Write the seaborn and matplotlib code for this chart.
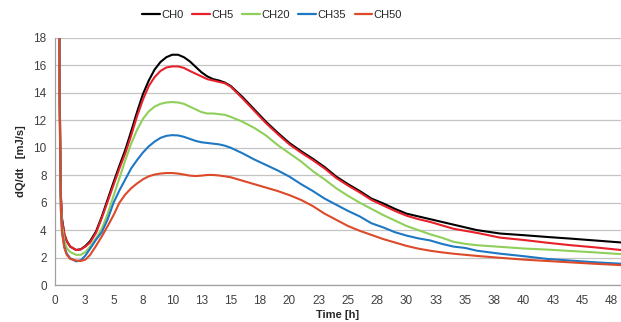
import pandas as pd
import numpy as np
import seaborn as sns
import matplotlib.pyplot as plt

# time points [h]
hours = [0.3, 0.4, 0.5, 0.6, 0.8, 1.0, 1.3, 1.8, 2.2, 2.6, 3, 3.5, 4, 4.5, 5, 5.5, 6, 6.5, 7, 7.5, 8,
         8.5, 9, 9.5, 10, 10.5, 11, 11.5, 12, 12.5, 13, 13.5, 14, 14.5, 15, 16, 17, 18, 19, 20, 21,
         22, 23, 24, 25, 26, 27, 28, 29, 30, 31, 32, 33, 34, 35, 36, 38, 40, 42, 44, 46, 48.3]

ch0 = [40, 14.0, 6.5, 4.8, 3.7, 3.2, 2.8, 2.55, 2.6, 2.85, 3.2, 3.9, 5.0, 6.25, 7.5, 8.7, 9.85, 11.2, 12.6, 13.9, 14.9,
       15.7, 16.25, 16.6, 16.78, 16.78, 16.6, 16.3, 15.9, 15.5, 15.2, 15.0, 14.9, 14.75, 14.5, 13.7, 12.8, 11.9, 11.1, 10.35, 9.75,
       9.2, 8.6, 7.9, 7.35, 6.85, 6.3, 5.95, 5.55, 5.2, 5.0, 4.8, 4.6, 4.4, 4.2, 4.0, 3.75, 3.63, 3.5, 3.38, 3.25, 3.1]

ch5 = [40, 14.0, 6.5, 4.8, 3.7, 3.2, 2.8, 2.55, 2.6, 2.8, 3.1, 3.8, 4.9, 6.1, 7.3, 8.5, 9.6, 10.9, 12.3, 13.5, 14.5,
       15.15, 15.6, 15.85, 15.93, 15.93, 15.82, 15.6, 15.4, 15.2, 15.0, 14.9, 14.8, 14.7, 14.45, 13.6, 12.7, 11.8, 11.0, 10.25, 9.65,
       9.1, 8.5, 7.8, 7.25, 6.75, 6.2, 5.8, 5.4, 5.05, 4.8, 4.6, 4.35, 4.1, 3.95, 3.8, 3.45, 3.28, 3.08, 2.9, 2.75, 2.55]

ch20 = [40, 13.5, 6.0, 4.3, 3.2, 2.7, 2.4, 2.2, 2.2, 2.4, 2.8, 3.4, 4.1, 5.2, 6.5, 7.8, 9.1, 10.3, 11.3, 12.1, 12.65,
        13.0, 13.2, 13.3, 13.33, 13.3, 13.2, 13.0, 12.8, 12.6, 12.5, 12.5, 12.45, 12.4, 12.25, 11.9, 11.45, 10.9, 10.2, 9.6, 9.0,
        8.3, 7.7, 7.05, 6.5, 6.0, 5.55, 5.1, 4.7, 4.3, 4.0, 3.7, 3.45, 3.15, 3.0, 2.9, 2.78, 2.66, 2.58, 2.48, 2.38, 2.25]

ch35 = [40, 13.0, 5.6, 3.9, 2.8, 2.3, 1.95, 1.72, 1.8, 2.15, 2.65, 3.3, 3.85, 4.8, 6.0, 6.9, 7.7, 8.5, 9.1, 9.65, 10.1,
        10.45, 10.72, 10.87, 10.92, 10.9, 10.8, 10.65, 10.5, 10.4, 10.35, 10.3, 10.25, 10.15, 10.0, 9.6, 9.15, 8.75, 8.35, 7.9, 7.35,
        6.85, 6.3, 5.85, 5.4, 5.0, 4.5, 4.2, 3.85, 3.6, 3.4, 3.25, 3.0, 2.8, 2.7, 2.5, 2.28, 2.1, 1.9, 1.78, 1.66, 1.55]

ch50 = [40, 12.5, 5.4, 3.8, 2.7, 2.2, 1.9, 1.78, 1.75, 1.85, 2.2, 2.85, 3.55, 4.3, 5.1, 6.0, 6.6, 7.05, 7.4, 7.7, 7.92,
        8.05, 8.12, 8.16, 8.16, 8.12, 8.05, 7.97, 7.94, 7.97, 8.02, 8.02, 7.98, 7.92, 7.85, 7.6, 7.35, 7.1, 6.85, 6.55, 6.2,
        5.75, 5.2, 4.75, 4.3, 3.95, 3.65, 3.35, 3.1, 2.85, 2.65, 2.5, 2.38, 2.28, 2.2, 2.12, 1.98, 1.85, 1.75, 1.65, 1.55, 1.45]

series = ['CH0', 'CH5', 'CH20', 'CH35', 'CH50']
colors = ['#000000', '#e8202a', '#8fcf5a', '#1f78c4', '#dc4a2a']

x_ticks = [0, 2.5, 5, 7.5, 10, 12.5, 15, 17.5, 20, 22.5, 25, 27.5, 30, 32.5, 35, 37.5, 40, 42.5, 45, 47.5]
x_ticklabels = ['0', '3', '5', '8', '10', '13', '15', '18', '20', '23', '25', '28', '30', '33', '35', '38',
                '40', '43', '45', '48']
y_ticks = [0, 2, 4, 6, 8, 10, 12, 14, 16, 18]

df = pd.DataFrame({'Time': hours * 5,
                   'val': ch0 + ch5 + ch20 + ch35 + ch50,
                   'ch': sum([[s] * len(hours) for s in series], [])})

sns.set_style('white')
plt.rcParams['font.family'] = ['Liberation Sans', 'DejaVu Sans']

fig = plt.figure(figsize=(6.21, 3.22), dpi=100)
ax = fig.add_axes([55 / 621, 1 - 285 / 322, 1 - 55 / 621, (285 - 38) / 322])

sns.lineplot(data=df, x='Time', y='val', hue='ch', palette=colors, hue_order=series,
             linewidth=1.5, ax=ax, legend=False, sort=False)

ax.set_xlim(0, 48.3)
ax.set_ylim(0, 18)
ax.set_yticks(y_ticks)
ax.set_xticks(x_ticks)
ax.set_xticklabels(x_ticklabels)
ax.tick_params(axis='both', labelsize=8.5, colors='#404040', length=3, width=0.8, color='#a0a0a0', pad=3)
ax.tick_params(axis='x', direction='out', length=4)
ax.grid(axis='y', color='#c4c4c4', linewidth=0.9)
ax.set_axisbelow(True)
for s in ['top', 'right']:
    ax.spines[s].set_visible(False)
for s in ['left', 'bottom']:
    ax.spines[s].set_color('#a0a0a0')
    ax.spines[s].set_linewidth(0.9)

ax.set_xlabel('Time [h]', fontsize=8, fontweight='bold', labelpad=2)
ax.set_ylabel('dQ/dt   [mJ/s]', fontsize=8, fontweight='bold', labelpad=5)

handles = [plt.Line2D([], [], color=c, linewidth=1.6) for c in colors]
fig.legend(handles, series, loc='center', bbox_to_anchor=(272 / 621, 1 - 15 / 322), ncol=5,
           frameon=False, fontsize=8, handlelength=1.6, handletextpad=0.1, columnspacing=0.8)

fig.savefig('out.png', dpi=100)
